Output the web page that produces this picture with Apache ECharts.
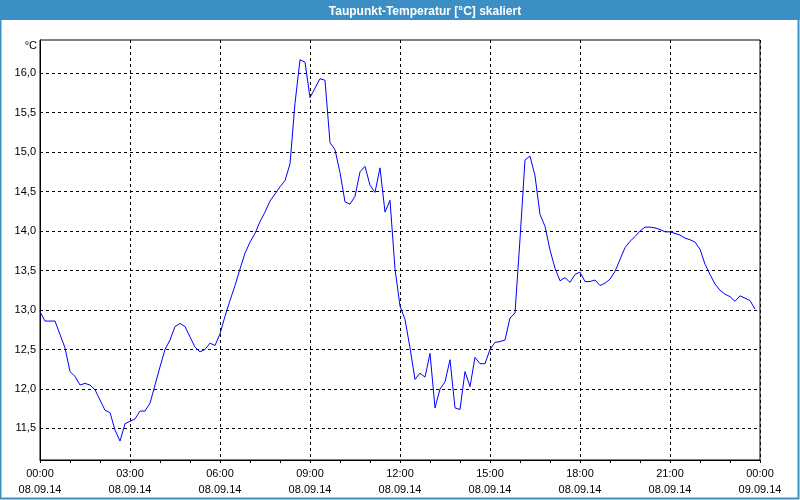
<!DOCTYPE html>
<html>
<head>
<meta charset="utf-8">
<script src="https://cdn.jsdelivr.net/npm/echarts@6/dist/echarts.min.js"></script>
<style>
html,body{margin:0;padding:0;background:#fff;}
#chart{width:800px;height:500px;}
</style>
</head>
<body>
<div id="chart"></div>
<script>
// ---- data ----
const chartTitle = 'Taupunkt-Temperatur [°C] skaliert';
const unitLabel = '°C';
const startMinute = 0;      // 08.09.14 00:00
const stepMinutes = 10;     // sampling interval
const dewPoint = [
  12.98,12.86,12.86,12.86,12.69,12.52,12.22,12.16,12.05,12.07,
  12.05,11.99,11.86,11.73,11.70,11.48,11.34,11.56,11.59,11.62,
  11.72,11.72,11.82,12.05,12.28,12.50,12.62,12.79,12.83,12.79,
  12.66,12.53,12.47,12.50,12.58,12.55,12.70,12.92,13.12,13.31,
  13.52,13.72,13.86,13.97,14.12,14.24,14.38,14.47,14.56,14.64,
  14.85,15.62,16.17,16.14,15.69,15.81,15.93,15.91,15.12,15.03,
  14.74,14.37,14.34,14.44,14.75,14.82,14.58,14.49,14.80,14.24,
  14.39,13.52,13.05,12.88,12.52,12.12,12.20,12.15,12.45,11.76,
  12.00,12.09,12.37,11.76,11.74,12.22,12.03,12.40,12.32,12.32,
  12.50,12.59,12.60,12.62,12.90,12.96,13.90,14.90,14.95,14.70,
  14.21,14.06,13.76,13.53,13.37,13.41,13.35,13.45,13.48,13.36,
  13.36,13.38,13.31,13.34,13.39,13.49,13.64,13.79,13.87,13.93,
  14.00,14.05,14.05,14.04,14.02,13.99,13.99,13.97,13.95,13.91,
  13.89,13.86,13.77,13.58,13.45,13.33,13.25,13.20,13.17,13.11,
  13.18,13.15,13.12,13.01
];
const yTicks = [11.5,12.0,12.5,13.0,13.5,14.0,14.5,15.0,15.5,16.0];
const yMin = 11.1, yMax = 16.42;
const xTimeLabels = ['00:00','03:00','06:00','09:00','12:00','15:00','18:00','21:00','00:00'];
const xDateLabels = ['08.09.14','08.09.14','08.09.14','08.09.14','08.09.14','08.09.14','08.09.14','08.09.14','09.09.14'];
const xMax = 1440, xStep = 180;

const seriesData = dewPoint.map((v, i) => [startMinute + i * stepMinutes, v]);

const chart = echarts.init(document.getElementById('chart'), null, {renderer: 'canvas'});
const font = 'Liberation Sans';
chart.setOption({
  animation: false,
  backgroundColor: '#ffffff',
  title: {
    text: chartTitle,
    left: 420, top: 1, textAlign: 'center',
    textStyle: {
      color: '#ffffff', fontFamily: font, fontWeight: 'bold', fontSize: 12,
      textShadowColor: 'rgba(0,40,80,0.6)', textShadowOffsetX: 1, textShadowOffsetY: 1, textShadowBlur: 0
    }
  },
  graphic: [
    { type: 'rect', z: -1, shape: {x: 0, y: 0, width: 800, height: 20}, style: {fill: '#3c8fc5'} },
    { type: 'rect', z: -1, shape: {x: 0.5, y: 0.5, width: 798, height: 498}, style: {fill: null, stroke: '#3c8fc5', lineWidth: 2} },
    { type: 'text', x: 37, y: 46, style: {text: unitLabel, fill: '#000', font: '11px "Liberation Sans"', align: 'right', verticalAlign: 'middle'} }
  ],
  grid: {
    left: 40, right: 40, top: 40, bottom: 40,
    show: true, borderColor: '#000', borderWidth: 1, backgroundColor: '#ffffff'
  },
  xAxis: {
    type: 'value', min: 0, max: xMax, interval: xStep,
    axisLine: {show: true, lineStyle: {color: '#000', width: 1}},
    axisTick: {show: true, length: 3, lineStyle: {color: '#000'}},
    minorTick: {show: true, splitNumber: 3, length: 3, lineStyle: {color: '#000'}},
    splitLine: {show: true, lineStyle: {color: '#000', type: [3, 3], width: 1}},
    axisLabel: {
      color: '#000', fontFamily: font, fontSize: 11, lineHeight: 16, margin: 6,
      formatter: (v) => {
        const i = Math.round(v / xStep);
        return xTimeLabels[i] + '\n' + xDateLabels[i];
      }
    }
  },
  yAxis: {
    type: 'value', min: yMin, max: yMax,
    axisLine: {show: true, lineStyle: {color: '#000', width: 1}},
    axisTick: {show: false, customValues: yTicks},
    splitLine: {show: true, lineStyle: {color: '#000', type: [3, 3], width: 1}},
    axisLabel: {
      customValues: yTicks,
      color: '#000', fontFamily: font, fontSize: 11, margin: 4,
      formatter: (v) => v.toFixed(1).replace('.', ',')
    }
  },
  series: [{
    type: 'line',
    data: seriesData,
    showSymbol: false,
    symbol: 'none',
    lineStyle: {color: '#0000ff', width: 1},
    itemStyle: {color: '#0000ff'}
  }]
});
</script>
</body>
</html>
